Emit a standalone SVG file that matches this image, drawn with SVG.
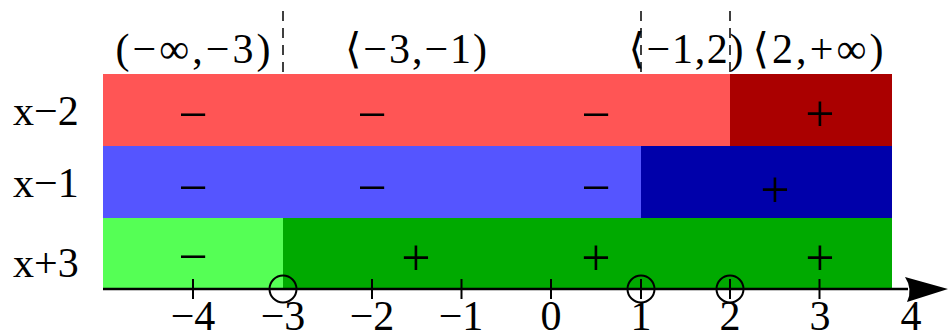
<svg xmlns="http://www.w3.org/2000/svg" width="948" height="336" viewBox="0 0 948 336">
<style>
text{font-family:"Liberation Serif","DejaVu Serif",serif;font-size:42px;fill:#000;text-anchor:middle}
.lbl{text-anchor:start}
.sg{font-size:52px}
.dash{stroke:#000;stroke-width:1.5;stroke-dasharray:10 7;fill:none}
.tick{stroke:#000;stroke-width:2;fill:none}
.circ{stroke:#000;stroke-width:2;fill:none}
</style>
<rect width="948" height="336" fill="#fff"/>
<g id="row-x-2">
<rect x="103" y="74" width="627" height="72" fill="#ff5555"/>
<rect x="730" y="74" width="162" height="72" fill="#aa0000"/>
<text class="lbl" x="13" y="125">x−2</text>
<text class="sg" x="193" y="132">−</text>
<text class="sg" x="372" y="132">−</text>
<text class="sg" x="596" y="132">−</text>
<text class="sg" x="820" y="131">+</text>
</g>
<g id="row-x-1">
<rect x="103" y="146" width="538" height="72" fill="#5555ff"/>
<rect x="641" y="146" width="251" height="72" fill="#0000aa"/>
<text class="lbl" x="13" y="197">x−1</text>
<text class="sg" x="193" y="205">−</text>
<text class="sg" x="372" y="205">−</text>
<text class="sg" x="596" y="205">−</text>
<text class="sg" x="775" y="207">+</text>
</g>
<g id="row-x+3">
<rect x="103" y="218" width="180" height="71" fill="#55ff55"/>
<rect x="283" y="218" width="609" height="71" fill="#00aa00"/>
<text class="lbl" x="13" y="277">x+3</text>
<text class="sg" x="193" y="274">−</text>
<text class="sg" x="416" y="275">+</text>
<text class="sg" x="596" y="275">+</text>
<text class="sg" x="820" y="275">+</text>
</g>
<g id="intervals">
<text x="193" y="63" textLength="155" lengthAdjust="spacing">(−∞,−3)</text>
<text x="416" y="63" textLength="142" lengthAdjust="spacing">⟨−3,−1)</text>
<text x="686" y="63" textLength="115" lengthAdjust="spacing">⟨−1,2)</text>
<text x="818" y="63" textLength="131" lengthAdjust="spacing">⟨2,+∞)</text>
</g>
<g id="connectors">
<line class="dash" x1="283" y1="11" x2="283" y2="74"/>
<line class="dash" x1="641" y1="11" x2="641" y2="74"/>
<line class="dash" x1="730" y1="11" x2="730" y2="74"/>
</g>
<g id="axis">
<line x1="103" y1="289" x2="908" y2="289" stroke="#000" stroke-width="2.5"/>
<path d="M905,277 L948,289 L907,302 Q913,289 905,277 Z" fill="#000"/>
<line class="tick" x1="193" y1="279" x2="193" y2="299"/>
<line class="tick" x1="372" y1="279" x2="372" y2="299"/>
<line class="tick" x1="461.5" y1="279" x2="461.5" y2="299"/>
<line class="tick" x1="551" y1="279" x2="551" y2="299"/>
<line class="tick" x1="641" y1="279" x2="641" y2="299"/>
<line class="tick" x1="730" y1="279" x2="730" y2="299"/>
<line class="tick" x1="819.5" y1="279" x2="819.5" y2="299"/>
<circle class="circ" cx="283" cy="289" r="13.5"/>
<circle class="circ" cx="641" cy="289" r="13.5"/>
<circle class="circ" cx="730" cy="289" r="13.5"/>
<text x="193" y="330">−4</text>
<text x="283" y="330">−3</text>
<text x="372" y="330">−2</text>
<text x="461" y="330">−1</text>
<text x="551" y="330">0</text>
<text x="641" y="330">1</text>
<text x="730" y="330">2</text>
<text x="820" y="330">3</text>
<text x="911" y="330">4</text>
</g>
</svg>
